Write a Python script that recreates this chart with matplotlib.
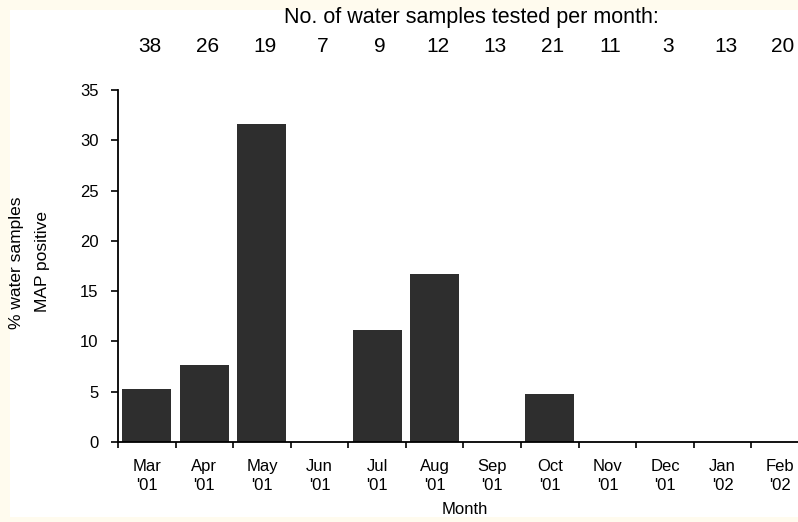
import matplotlib
matplotlib.use("Agg")
import matplotlib.pyplot as plt
from matplotlib.patches import Rectangle
import matplotlib.transforms as mtransforms

months = ["Mar\n'01", "Apr\n'01", "May\n'01", "Jun\n'01", "Jul\n'01", "Aug\n'01",
          "Sep\n'01", "Oct\n'01", "Nov\n'01", "Dec\n'01", "Jan\n'02", "Feb\n'02"]
pct_positive = [5.3, 7.7, 31.6, 0, 11.1, 16.7, 0, 4.8, 0, 0, 0, 0]
n_tested = [38, 26, 19, 7, 9, 12, 13, 21, 11, 3, 13, 20]
yticks = [0, 5, 10, 15, 20, 25, 30, 35]

plt.rcParams['font.family'] = ['Liberation Sans', 'DejaVu Sans']

W, H = 798, 522
fig = plt.figure(figsize=(W / 100, H / 100), dpi=100)
fig.patch.set_facecolor('#fffbee')
bg = Rectangle((10 / W, 5 / H), 1, (H - 15) / H, transform=fig.transFigure,
               facecolor='white', edgecolor='none', zorder=-10)
fig.add_artist(bg)

left = 118 / W
right = 809 / W
bottom = (H - 442) / H
top = (H - 90) / H
ax = fig.add_axes([left, bottom, right - left, top - bottom])
ax.set_facecolor('none')
ax.set_zorder(5)

x = list(range(len(months)))
ax.bar(x, pct_positive, width=0.85, color='#2e2e2e', edgecolor='none')

ax.set_xlim(-0.5, len(months) - 0.5)
ax.set_ylim(0, 35)
ax.set_yticks(yticks)
ax.set_yticklabels([str(v) for v in yticks], fontsize=12)

ax.set_xticks([i - 0.5 for i in range(len(months))])
ax.set_xticklabels([])
ax.set_xticks(x, minor=True)
ax.set_xticklabels(months, minor=True, fontsize=12, linespacing=1.4)
ax.tick_params(axis='x', which='minor', length=0, pad=12)
ax.tick_params(axis='x', which='major', length=4, width=1.2, direction='out')
ax.tick_params(axis='y', length=5, width=1.2, direction='out', pad=9)

for s in ['top', 'right']:
    ax.spines[s].set_visible(False)
ax.spines['left'].set_linewidth(1.3)
ax.spines['bottom'].set_linewidth(1.3)

ax.set_xlabel('Month', fontsize=12)
ax.xaxis.set_label_coords((465 - 118) / (809 - 118), -(510 - 442) / (442 - 90))
ax.xaxis.label.set_va('center')

trans = mtransforms.blended_transform_factory(ax.transData, fig.transFigure)
for xi, n in zip(x, n_tested):
    ax.text(xi + 0.05, (H - 47) / H, str(n), transform=trans, ha='center', va='center',
            fontsize=15, clip_on=False)

fig.text(471 / W, (H - 17) / H, 'No. of water samples tested per month:', ha='center',
         va='center', fontsize=15.5)

fig.text(17 / W, (H - 263) / H, '% water samples', rotation=90, ha='center', va='center',
         fontsize=12.5)
fig.text(43 / W, (H - 262) / H, 'MAP positive', rotation=90, ha='center', va='center',
         fontsize=12.5)

fig.savefig('out.png', dpi=100, facecolor=fig.get_facecolor())
